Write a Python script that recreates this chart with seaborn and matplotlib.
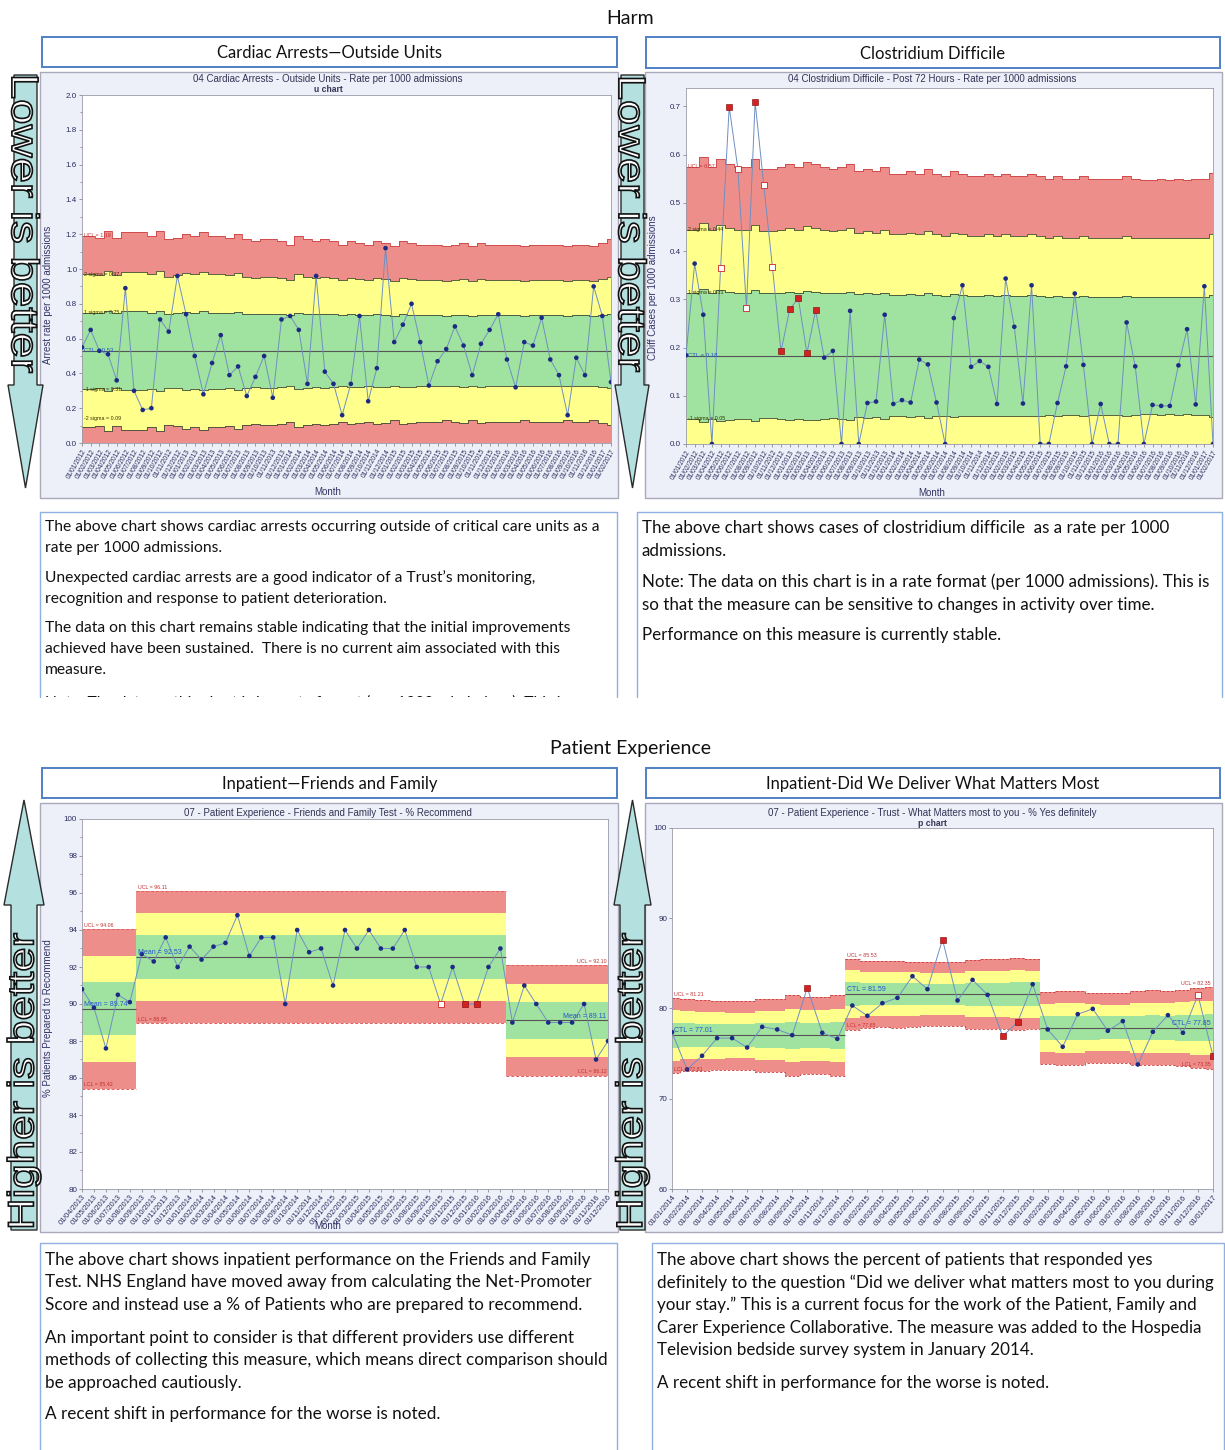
import numpy as np
import pandas as pd
import matplotlib
matplotlib.use("Agg")
import matplotlib.pyplot as plt
from matplotlib.patches import Polygon, Rectangle, PathPatch
from matplotlib.textpath import TextPath
from matplotlib.font_manager import FontProperties
from matplotlib.transforms import Affine2D
from matplotlib.ticker import MultipleLocator, FormatStrFormatter
import seaborn as sns

# ---------------------------------------------------------------- dados
# Cardiac arrests outside units - rate per 1000 admissions (u chart)
ca_meses = pd.date_range("2012-01-01", periods=62, freq="MS").strftime("%d/%m/%Y")
ca_taxa = [0.55, 0.65, 0.53, 0.51, 0.36, 0.89, 0.30, 0.19, 0.20, 0.71,
           0.64, 0.96, 0.74, 0.50, 0.28, 0.46, 0.62, 0.39, 0.44, 0.27,
           0.38, 0.50, 0.26, 0.71, 0.73, 0.65, 0.34, 0.96, 0.41, 0.34,
           0.16, 0.34, 0.73, 0.24, 0.43, 1.12, 0.58, 0.68, 0.80, 0.58,
           0.33, 0.47, 0.54, 0.67, 0.56, 0.39, 0.57, 0.65, 0.74, 0.48,
           0.32, 0.58, 0.56, 0.72, 0.48, 0.39, 0.16, 0.49, 0.39, 0.90,
           0.73, 0.35]
ca_ucl = [1.19, 1.19, 1.18, 1.22, 1.18, 1.21, 1.21, 1.21, 1.19, 1.22,
          1.17, 1.18, 1.20, 1.19, 1.21, 1.19, 1.19, 1.18, 1.20, 1.17,
          1.16, 1.17, 1.17, 1.16, 1.14, 1.19, 1.17, 1.16, 1.17, 1.16,
          1.14, 1.16, 1.15, 1.14, 1.16, 1.15, 1.13, 1.16, 1.15, 1.14,
          1.14, 1.14, 1.13, 1.14, 1.15, 1.13, 1.15, 1.14, 1.14, 1.14,
          1.14, 1.13, 1.14, 1.14, 1.14, 1.14, 1.13, 1.14, 1.14, 1.13,
          1.15, 1.17]
ca_cl = 0.53

# Clostridium difficile - post 72 hours - rate per 1000 admissions
cd_meses = pd.date_range("2012-01-01", periods=62, freq="MS").strftime("%d/%m/%Y")
cd_taxa = [0.184, 0.374, 0.268, 0.0, 0.364, 0.699, 0.571, 0.282, 0.709, 0.537,
           0.367, 0.192, 0.279, 0.302, 0.188, 0.277, 0.179, 0.193, 0.0, 0.276,
           0.0, 0.085, 0.088, 0.268, 0.083, 0.091, 0.086, 0.175, 0.165, 0.086,
           0.0, 0.261, 0.329, 0.160, 0.172, 0.160, 0.083, 0.343, 0.243, 0.084,
           0.329, 0.0, 0.0, 0.085, 0.161, 0.312, 0.164, 0.0, 0.083, 0.0,
           0.0, 0.252, 0.161, 0.0, 0.081, 0.079, 0.079, 0.163, 0.238, 0.082,
           0.327, 0.0]
cd_marca = [0, 0, 0, 0, 2, 1, 2, 2, 1, 2, 2, 1, 1, 1, 1, 1] + [0] * 46
cd_ucl = [0.575, 0.575, 0.595, 0.575, 0.590, 0.580, 0.575, 0.575, 0.590, 0.570,
          0.570, 0.575, 0.580, 0.575, 0.585, 0.580, 0.575, 0.570, 0.575, 0.580,
          0.565, 0.570, 0.565, 0.575, 0.560, 0.560, 0.565, 0.560, 0.570, 0.560,
          0.555, 0.565, 0.560, 0.555, 0.555, 0.560, 0.555, 0.560, 0.555, 0.555,
          0.560, 0.555, 0.550, 0.555, 0.550, 0.550, 0.555, 0.550, 0.550, 0.550,
          0.550, 0.555, 0.550, 0.548, 0.548, 0.550, 0.548, 0.550, 0.548, 0.550,
          0.550, 0.562]
cd_cl = 0.183

# Friends and Family Test - % recommend
ff_meses = pd.date_range("2013-04-01", periods=45, freq="MS").strftime("%d/%m/%Y")
ff_pct = [90.8, 89.8, 87.6, 90.5, 90.1,
          92.7, 92.3, 93.6, 92.0, 93.1, 92.4, 93.1, 93.3, 94.8, 92.6,
          93.6, 93.6, 90.0, 94.0, 92.8, 93.0, 91.0, 94.0, 93.0, 94.0,
          93.0, 93.0, 94.0, 92.0, 92.0, 90.0, 92.0, 90.0, 90.0, 92.0, 93.0,
          89.0, 91.0, 90.0, 89.0, 89.0, 89.0, 90.0, 87.0, 88.0]
ff_marca = [0] * 30 + [2, 0, 1, 1] + [0] * 11
ff_fase_n = [5, 31, 9]
ff_ucl = [94.06, 96.11, 92.10]
ff_media = [89.74, 92.53, 89.11]

# What matters most to you - % yes definitely (p chart)
wm_meses = pd.date_range("2014-01-01", periods=37, freq="MS").strftime("%d/%m/%Y")
wm_pct = [77.38, 73.25, 74.76, 76.72, 76.72, 75.68, 77.97, 77.68, 77.05, 82.29, 77.31, 76.64,
          80.33, 79.19, 80.59, 81.18, 83.58, 82.14, 87.64, 80.89, 83.17, 81.51, 76.94, 78.49, 82.69,
          77.68, 75.76, 79.37, 79.96, 77.53, 78.60, 73.80, 77.42, 79.26, 77.31, 81.51, 74.72]
wm_marca = [0] * 9 + [1] + [0] * 8 + [1] + [0] * 3 + [1, 1] + [0] * 11 + [2, 1]
wm_fase_n = [12, 13, 12]
wm_ucl = [81.21, 81.00, 80.95, 80.85, 80.80, 80.80, 81.05, 81.10, 81.45, 81.30, 81.30, 81.45,
          85.53, 85.30, 85.25, 85.30, 85.20, 85.10, 85.10, 85.10, 85.40, 85.45, 85.45, 85.55, 85.50,
          81.85, 81.95, 81.95, 81.75, 81.70, 81.70, 81.95, 82.00, 81.95, 82.10, 82.30, 82.35]
wm_ctl = [77.01, 81.59, 77.85]

# ---------------------------------------------------------------- estilo
W, H = 1225, 1450
VERMELHO, AMARELO, VERDE = "#ee8e8a", "#ffff8c", "#a0e2a0"
PAINEL = "#edf0f8"
TICK = "#2b2b5e"
AZUL_CAB = "#4f7fc6"
AZUL_CAIXA = "#8fb0e0"

sns.set_style("white")
plt.rcParams["font.family"] = ["Liberation Sans", "DejaVu Sans"]

fig = plt.figure(figsize=(W / 100, H / 100), dpi=100)
ov = fig.add_axes([0, 0, 1, 1], zorder=0)
ov.set_xlim(0, W)
ov.set_ylim(H, 0)
ov.autoscale(False)
ov.axis("off")


def caixa_px(x0, y0, x1, y1):
    return [x0 / W, 1 - y1 / H, (x1 - x0) / W, (y1 - y0) / H]


def tamanho_ajustado(texto, largura, familia="Lato", base=10):
    t = fig.text(0, 0, texto, fontsize=base, family=familia)
    w = t.get_window_extent(renderer=fig.canvas.get_renderer()).width
    t.remove()
    return base * largura / w


def faixas(ax, inicio, ucl, cl, n, piso=None):
    """pinta as faixas sigma (vermelho/amarelo/verde) de uma fase"""
    ucl = np.asarray(ucl, dtype=float)
    sig = (ucl - cl) / 3
    niveis = [cl + k * sig for k in (-3, -2, -1, 1, 2, 3)]
    if piso is not None:
        niveis = [np.maximum(v, piso) for v in niveis]
    xe = np.r_[np.arange(inicio, inicio + len(ucl)) - 0.5, inicio + len(ucl) - 0.5]
    xe = np.clip(xe, 0, n - 1)
    niveis = [np.r_[v, v[-1]] for v in niveis]
    cores = [VERMELHO, AMARELO, VERDE, AMARELO, VERMELHO]
    for lo, hi, c in zip(niveis[:-1], niveis[1:], cores):
        ax.fill_between(xe, lo, hi, step="post", color=c, lw=0, zorder=1)
    return xe, niveis


def serie(ax, valores, marcas):
    df = pd.DataFrame({"x": np.arange(len(valores)), "y": valores, "m": marcas})
    sns.lineplot(data=df, x="x", y="y", ax=ax, color="#6f8fc2", lw=0.7, zorder=4)
    sns.scatterplot(data=df[df.m == 0], x="x", y="y", ax=ax, color="#1c2a84",
                    s=11, edgecolor="none", zorder=5)
    if (df.m == 1).any():
        sns.scatterplot(data=df[df.m == 1], x="x", y="y", ax=ax, marker="s", color="#d42222",
                        edgecolor="#7a0000", s=14, linewidth=0.4, zorder=6)
    if (df.m == 2).any():
        sns.scatterplot(data=df[df.m == 2], x="x", y="y", ax=ax, marker="s", color="white",
                        edgecolor="#d42222", s=14, linewidth=0.6, zorder=6)


def eixo(ax, rotulos, ylim, yticks, fmt, fs_x, rot, menor=None):
    n = len(rotulos)
    ax.set_xlim(0, n - 1)
    ax.set_ylim(*ylim)
    ax.set_xticks(np.arange(n))
    ax.set_xticklabels(rotulos, rotation=rot, ha="right", rotation_mode="anchor", fontsize=fs_x)
    ax.set_yticks(yticks)
    ax.yaxis.set_major_formatter(FormatStrFormatter(fmt))
    if menor:
        ax.yaxis.set_minor_locator(MultipleLocator(menor))
    ax.tick_params(axis="both", which="both", length=2, width=0.5, color="#777777",
                   labelcolor=TICK, pad=1.5, left=True, bottom=True)
    ax.tick_params(axis="y", which="minor", length=1.2)
    ax.tick_params(axis="y", labelsize=5.8)
    ax.set_xlabel("")
    ax.set_ylabel("")
    ax.set_facecolor("white")
    for s in ax.spines.values():
        s.set_color("#9a9aaa")
        s.set_linewidth(0.6)


def rotulo(ax, x, y, txt, cor, ha="left", va="center", fs=3.8):
    ax.text(x, y, txt, fontsize=fs, color=cor, ha=ha, va=va, zorder=7)


# ---------------------------------------------------------------- moldura
ov.text(630, 18, "Harm", ha="center", va="center", fontsize=14, family="Lato", color="#111111")
ov.text(630, 748, "Patient Experience", ha="center", va="center", fontsize=14,
        family="Lato", color="#111111")

cabecalhos = [((42, 37, 617, 67), "Cardiac Arrests\u2014Outside Units"),
              ((646, 37, 1220, 68), "Clostridium Difficile"),
              ((42, 768, 617, 798), "Inpatient\u2014Friends and Family"),
              ((646, 768, 1220, 798), "Inpatient-Did We Deliver What Matters Most")]
for (x0, y0, x1, y1), txt in cabecalhos:
    ov.add_patch(Rectangle((x0, y0), x1 - x0, y1 - y0, fc="white", ec=AZUL_CAB, lw=1.4, zorder=1))
    ov.text((x0 + x1) / 2, (y0 + y1) / 2 + 1, txt, ha="center", va="center", fontsize=12,
            family="Lato", color="#111111", zorder=2)

for x0, y0, x1, y1 in [(40, 72, 618, 498), (645, 72, 1222, 498),
                       (40, 803, 618, 1232), (645, 803, 1222, 1232)]:
    ov.add_patch(Rectangle((x0, y0), x1 - x0, y1 - y0, fc=PAINEL, ec="#a9a9bb", lw=1.0, zorder=1))

# ---------------------------------------------------------------- grafico 1
ax1 = fig.add_axes(caixa_px(82, 95, 611, 443), zorder=2)
n = len(ca_taxa)
xe, nv = faixas(ax1, 0, ca_ucl, ca_cl, n, piso=0)
for k in (1, 2, 3, 4):
    ax1.step(xe, nv[k], where="post", color="#3d4a30", lw=0.6, zorder=2)
ax1.step(xe, nv[5], where="post", color="#cc4040", lw=0.6, zorder=2)
ax1.hlines(ca_cl, 0, n - 1, color="#555555", lw=0.8, zorder=3)
serie(ax1, ca_taxa, [0] * n)
eixo(ax1, ca_meses, (0, 2.0), np.arange(0, 2.01, 0.2), "%.1f", 4.8, 60, menor=0.1)
rotulo(ax1, 0.2, nv[5][0], f"UCL = {nv[5][0]:.2f}", "#c03030")
rotulo(ax1, 0.2, nv[4][0], f"2 sigma = {nv[4][0]:.2f}", "#333300")
rotulo(ax1, 0.2, nv[3][0], f"1 sigma = {nv[3][0]:.2f}", "#333300")
rotulo(ax1, 0.2, ca_cl, f"CTL = {ca_cl:.2f}", "#2255cc", fs=4.3)
rotulo(ax1, 0.2, nv[2][0], f"-1 sigma = {nv[2][0]:.2f}", "#333300")
rotulo(ax1, 0.2, nv[1][0] + 0.05, f"-2 sigma = {nv[1][0]:.2f}", "#333300")
ov.text(328, 79, "04 Cardiac Arrests - Outside Units - Rate per 1000 admissions",
        ha="center", va="center", fontsize=7, color="#333355")
ov.text(328, 89, "u chart", ha="center", va="center", fontsize=6.2, fontweight="bold", color="#333355")
ov.text(48, 295, "Arrest rate per 1000 admissions", rotation=90, ha="center", va="center",
        fontsize=7, color="#333366")
ov.text(328, 492, "Month", ha="center", va="center", fontsize=7, color="#333366")

# ---------------------------------------------------------------- grafico 2
ax2 = fig.add_axes(caixa_px(686, 88, 1213, 444), zorder=2)
n = len(cd_taxa)
xe, nv = faixas(ax2, 0, cd_ucl, cd_cl, n, piso=0)
for k in (2, 3, 4):
    ax2.step(xe, nv[k], where="post", color="#3d4a30", lw=0.6, zorder=2)
ax2.step(xe, nv[5], where="post", color="#cc4040", lw=0.6, zorder=2)
ax2.hlines(cd_cl, 0, n - 1, color="#555555", lw=0.8, zorder=3)
serie(ax2, cd_taxa, cd_marca)
eixo(ax2, cd_meses, (0, 0.738), np.arange(0, 0.71, 0.1), "%.1f", 4.8, 60)
rotulo(ax2, 0.2, nv[5][0], f"UCL = {nv[5][0]:.2f}", "#c03030")
rotulo(ax2, 0.2, nv[4][0], f"2 sigma = {nv[4][0]:.2f}", "#333300")
rotulo(ax2, 0.2, nv[3][0], f"1 sigma = {nv[3][0]:.2f}", "#333300")
rotulo(ax2, 0.2, cd_cl, f"CTL = {cd_cl:.2f}", "#2255cc", fs=4.3)
rotulo(ax2, 0.2, nv[2][0], f"-1 sigma = {nv[2][0]:.2f}", "#333300")
ov.text(932, 79, "04 Clostridium Difficile - Post 72 Hours - Rate per 1000 admissions",
        ha="center", va="center", fontsize=7, color="#333355")
ov.text(653, 288, "CDiff Cases per 1000 admissions", rotation=90, ha="center", va="center",
        fontsize=7, color="#333366")
ov.text(932, 493, "Month", ha="center", va="center", fontsize=7, color="#333366")

# ---------------------------------------------------------------- grafico 3
ax3 = fig.add_axes(caixa_px(82, 819, 608, 1189), zorder=2)
n = len(ff_pct)
inicio = 0
for i, (m, ucl, media) in enumerate(zip(ff_fase_n, ff_ucl, ff_media)):
    xe, nv = faixas(ax3, inicio, np.full(m, ucl), media, n)
    for k in (0, 5):
        ax3.step(xe, nv[k], where="post", color="#e06060", lw=0.7, ls=(0, (3, 2)), zorder=2)
    ax3.hlines(media, xe[0], xe[-1], color="#555555", lw=0.8, zorder=3)
    if i < 2:
        xr, ha = xe[0] + 0.15, "left"
    else:
        xr, ha = xe[-1] - 0.15, "right"
    rotulo(ax3, xr, nv[5][0] + 0.05, f"UCL = {ucl:.2f}", "#c03030", ha=ha, va="bottom")
    rotulo(ax3, xr, media + 0.05, f"Mean = {media:.2f}", "#2255cc", ha=ha, va="bottom", fs=5)
    rotulo(ax3, xr, nv[0][0] + 0.1, f"LCL = {nv[0][0]:.2f}", "#c03030", ha=ha, va="bottom")
    inicio += m
serie(ax3, ff_pct, ff_marca)
eixo(ax3, ff_meses, (80, 100), np.arange(80, 101, 2), "%d", 5.3, 50, menor=1)
ov.text(328, 813, "07 - Patient Experience - Friends and Family Test - % Recommend",
        ha="center", va="center", fontsize=7, color="#333355")
ov.text(48, 1018, "% Patients Prepared to Recommend", rotation=90, ha="center", va="center",
        fontsize=7, color="#333366")
ov.text(328, 1226, "Month", ha="center", va="center", fontsize=7, color="#333366")

# ---------------------------------------------------------------- grafico 4
ax4 = fig.add_axes(caixa_px(672, 828, 1213, 1189), zorder=2)
n = len(wm_pct)
inicio = 0
for i, (m, ctl) in enumerate(zip(wm_fase_n, wm_ctl)):
    xe, nv = faixas(ax4, inicio, wm_ucl[inicio:inicio + m], ctl, n)
    for k in (0, 5):
        ax4.step(xe, nv[k], where="post", color="#c83c3c", lw=0.6, ls=(0, (3, 2)), zorder=2)
    ax4.hlines(ctl, xe[0], xe[-1], color="#555555", lw=0.8, zorder=3)
    j = 0 if i < 2 else -1
    if i < 2:
        xr, ha = xe[0] + 0.15, "left"
    else:
        xr, ha = xe[-1] - 0.15, "right"
    rotulo(ax4, xr, nv[5][j] + 0.1, f"UCL = {nv[5][j]:.2f}", "#c03030", ha=ha, va="bottom")
    rotulo(ax4, xr, ctl + 0.15, f"CTL = {ctl:.2f}", "#2255cc", ha=ha, va="bottom", fs=5)
    rotulo(ax4, xr, nv[0][j] + 0.2, f"LCL = {nv[0][j]:.2f}", "#c03030", ha=ha, va="bottom")
    inicio += m
serie(ax4, wm_pct, wm_marca)
eixo(ax4, wm_meses, (60, 100), np.arange(60, 101, 10), "%d", 5.5, 50)
ov.text(932, 813, "07 - Patient Experience - Trust - What Matters most to you - % Yes definitely",
        ha="center", va="center", fontsize=7, color="#333355")
ov.text(932, 823, "p chart", ha="center", va="center", fontsize=6.2, fontweight="bold", color="#333355")

# ---------------------------------------------------------------- setas
def seta(x0, x1, hx0, hx1, y_base, y_cab, y_ponta, texto, ty, comprimento, altura):
    cx = (x0 + x1) / 2
    pts = [(x0, y_base), (x1, y_base), (x1, y_cab), (hx1, y_cab), (cx, y_ponta),
           (hx0, y_cab), (x0, y_cab)]
    ov.add_patch(Polygon(pts, closed=True, fc="#b4e0e0", ec="#2a2a2a", lw=1.0, zorder=3))
    # texto contornado, esticado ao longo da seta
    tp = TextPath((0, 0), texto, size=1, prop=FontProperties(family="Liberation Sans"))
    bb = tp.get_extents()
    sl = comprimento / bb.width
    sh = altura / bb.height
    sinal = 1 if y_ponta > y_base else -1
    tr = (Affine2D().translate(-(bb.x0 + bb.x1) / 2, -(bb.y0 + bb.y1) / 2)
          + Affine2D().from_values(0, sinal * sl, sinal * sh, 0, cx, ty) + ov.transData)
    ov.add_patch(PathPatch(tp, transform=tr, fc="white", ec="#111111", lw=1.2, zorder=4))


seta(14, 37, 8, 43, 75, 385, 488, "Lower is better", 225, 295, 28)
seta(621, 644, 615, 649, 75, 385, 488, "Lower is better", 225, 293, 28)
seta(11, 37, 4, 44, 1230, 905, 800, "Higher is better", 1080, 293, 34)
seta(620, 645, 614, 651, 1230, 905, 800, "Higher is better", 1080, 293, 34)

# ---------------------------------------------------------------- caixas de texto
def caixa_texto(x0, y0, x1, y1, paragrafos, inicios, dy, ref, largura):
    ov.plot([x0, x0, x1, x1], [y1, y0, y0, y1], color=AZUL_CAIXA, lw=1.0, zorder=2)
    clip = Rectangle((x0, y0), x1 - x0, y1 - y0, transform=ov.transData)
    fs = tamanho_ajustado(ref, largura)
    for linhas, ya in zip(paragrafos, inicios):
        for k, linha in enumerate(linhas):
            t = ov.text(x0 + 5, ya + k * dy, linha, fontsize=fs, family="Lato", va="center",
                        color="#111111", zorder=3, clip_on=True)
            t.set_clip_path(clip)


texto1 = [["The above chart shows cardiac arrests occurring outside of critical care units as a",
           "rate per 1000 admissions."],
          ["Unexpected cardiac arrests are a good indicator of a Trust\u2019s monitoring,",
           "recognition and response to patient deterioration."],
          ["The data on this chart remains stable indicating that the initial improvements",
           "achieved have been sustained.  There is no current aim associated with this",
           "measure."],
          ["Note: The data on this chart is in a rate format (per 1000 admissions). This is so"]]
texto2 = [["The above chart shows cases of clostridium difficile  as a rate per 1000",
           "admissions."],
          ["Note: The data on this chart is in a rate format (per 1000 admissions). This is",
           "so that the measure can be sensitive to changes in activity over time."],
          ["Performance on this measure is currently stable."]]
texto3 = [["The above chart shows inpatient performance on the Friends and Family",
           "Test. NHS England have moved away from calculating the Net-Promoter",
           "Score and instead use a % of Patients who are prepared to recommend."],
          ["An important point to consider is that different providers use different",
           "methods of collecting this measure, which means direct comparison should",
           "be approached cautiously."],
          ["A recent shift in performance for the worse is noted."]]
texto4 = [["The above chart shows the percent of patients that responded yes",
           "definitely to the question \u201cDid we deliver what matters most to you during",
           "your stay.\u201d This is a current focus for the work of the Patient, Family and",
           "Carer Experience Collaborative. The measure was added to the Hospedia",
           "Television bedside survey system in January 2014."],
          ["A recent shift in performance for the worse is noted."]]

caixa_texto(40, 512, 617, 697, texto1, [527, 578, 628, 702], 21, texto1[0][0], 553)
caixa_texto(637, 512, 1222, 697, texto2, [528, 582, 635], 23, texto2[1][0], 569)
caixa_texto(40, 1243, 617, 1452, texto3, [1260, 1338, 1414], 22.5, texto3[1][1], 563)
caixa_texto(652, 1243, 1224, 1452, texto4, [1260, 1383], 22.5, texto4[0][1], 559)

fig.savefig("out.png", dpi=100, facecolor="white")
